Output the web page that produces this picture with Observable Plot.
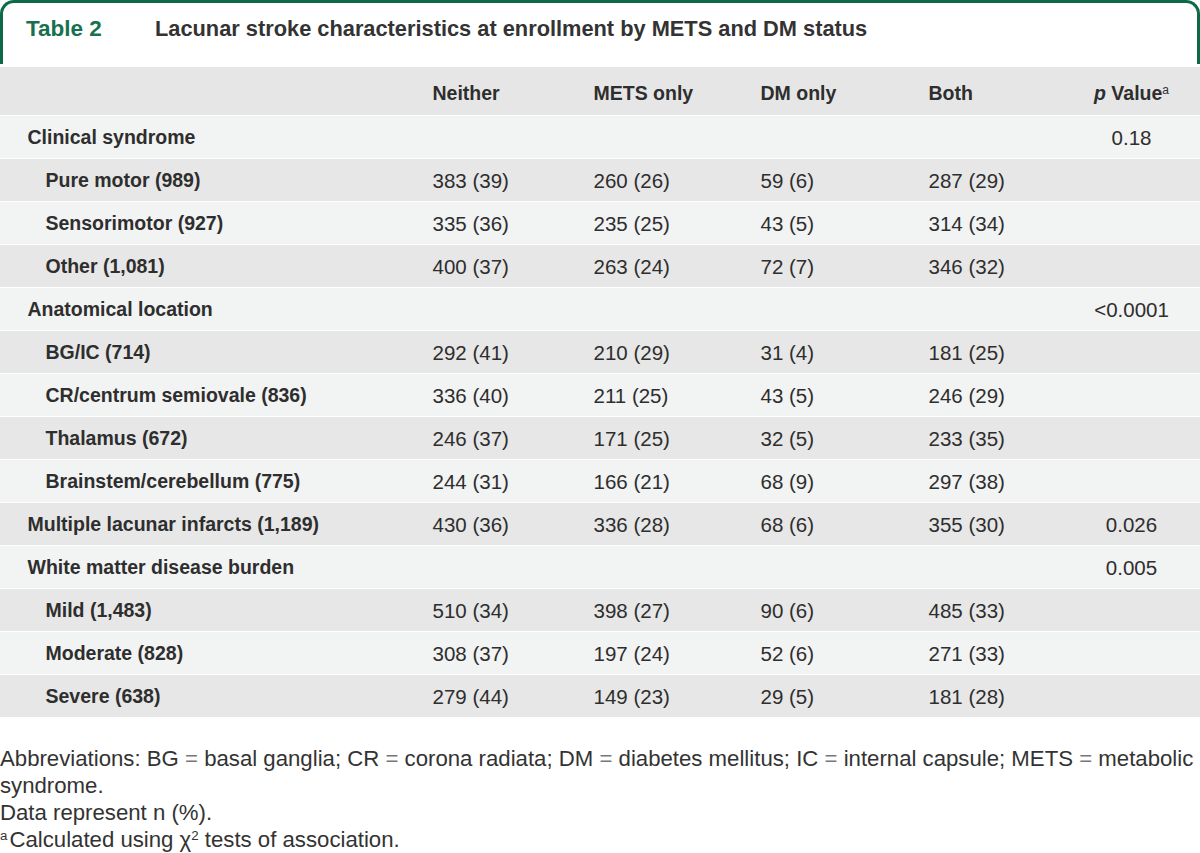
<!DOCTYPE html>
<html>
<head>
<meta charset="utf-8">
<script src="https://cdn.jsdelivr.net/npm/d3@7"></script>
<script src="https://cdn.jsdelivr.net/npm/@observablehq/plot@0.6"></script>
<style>
  body { margin: 0; background: #fff; font-family: "Liberation Sans", Arial, sans-serif; color: #2e2e2e; }
  #wrap { width: 1200px; }
  #title { box-sizing: border-box; width: 1200px; height: 64px; border: 3px solid #0c6a47; border-bottom: none; border-radius: 14px 14px 0 0; position: relative; }
  #title span { position: absolute; top: 11px; line-height: 30px; font-weight: bold; white-space: nowrap; }
  #title .num { left: 23px; color: #17714f; font-size: 22.5px; }
  #title .txt { left: 152px; color: #333; font-size: 21.8px; }
  #chart svg { display: block; }
  #notes { margin-top: 24px; font-size: 22.2px; line-height: 27px; white-space: nowrap; color: #333; }
  #notes .eq { color: #777; }
  #notes sup { font-size: 0.6em; vertical-align: 0; position: relative; top: -0.55em; }
  #notes sup.fn { margin-right: 2px; }
</style>
</head>
<body>
<div id="wrap">
  <div id="title"><span class="num">Table 2</span><span class="txt">Lacunar stroke characteristics at enrollment by METS and DM status</span></div>
  <div id="chart"></div>
  <div id="notes">
    Abbreviations: BG <span class="eq">=</span> basal ganglia; CR <span class="eq">=</span> corona radiata; DM <span class="eq">=</span> diabetes mellitus; IC <span class="eq">=</span> internal capsule; METS <span class="eq">=</span> metabolic<br>
    syndrome.<br>
    Data represent n (%).<br>
    <sup class="fn">a</sup>Calculated using χ<sup>2</sup> tests of association.
  </div>
</div>
<script>
// ---- data ----
const columns = ["Neither", "METS only", "DM only", "Both"];
const rowLabels = [
  "Clinical syndrome", "Pure motor (989)", "Sensorimotor (927)", "Other (1,081)",
  "Anatomical location", "BG/IC (714)", "CR/centrum semiovale (836)", "Thalamus (672)", "Brainstem/cerebellum (775)",
  "Multiple lacunar infarcts (1,189)",
  "White matter disease burden", "Mild (1,483)", "Moderate (828)", "Severe (638)"
];
const rowLevels = [0, 1, 1, 1, 0, 1, 1, 1, 1, 0, 0, 1, 1, 1];
const neitherN   = [null, 383, 335, 400, null, 292, 336, 246, 244, 430, null, 510, 308, 279];
const neitherPct = [null, 39, 36, 37, null, 41, 40, 37, 31, 36, null, 34, 37, 44];
const metsN      = [null, 260, 235, 263, null, 210, 211, 171, 166, 336, null, 398, 197, 149];
const metsPct    = [null, 26, 25, 24, null, 29, 25, 25, 21, 28, null, 27, 24, 23];
const dmN        = [null, 59, 43, 72, null, 31, 43, 32, 68, 68, null, 90, 52, 29];
const dmPct      = [null, 6, 5, 7, null, 4, 5, 5, 9, 6, null, 6, 6, 5];
const bothN      = [null, 287, 314, 346, null, 181, 246, 233, 297, 355, null, 485, 271, 181];
const bothPct    = [null, 29, 34, 32, null, 25, 29, 35, 38, 30, null, 33, 33, 28];
const pValues    = ["0.18", "", "", "", "<0.0001", "", "", "", "", "0.026", "0.005", "", "", ""];
const pHeader = "p Value";

// ---- layout (not data) ----
const W = 1200, H = 657;
const colX = { label0: 27, label1: 45, "Neither": 432, "METS only": 593, "DM only": 760, "Both": 928, p: 1131 };
const series = { "Neither": [neitherN, neitherPct], "METS only": [metsN, metsPct], "DM only": [dmN, dmPct], "Both": [bothN, bothPct] };

const rows = rowLabels.map((label, i) => ({ i, label, level: rowLevels[i], p: pValues[i] }));
const cells = [];
for (const c of columns) {
  const [ns, ps] = series[c];
  rows.forEach((r, i) => { if (ns[i] != null) cells.push({ col: c, i, text: `${ns[i]} (${ps[i]})` }); });
}
const headerKey = -1;

const chart = Plot.plot({
  width: W, height: H,
  marginTop: 6, marginBottom: 0, marginLeft: 0, marginRight: 0,
  style: { fontFamily: '"Liberation Sans", Arial, sans-serif', color: "#2e2e2e", background: "transparent", overflow: "visible" },
  x: { type: "linear", domain: [0, W], range: [0, W], axis: null },
  y: { type: "band", domain: [headerKey, ...rows.map(r => r.i)], padding: 0, axis: null },
  marks: [
    Plot.cell([headerKey], { y: d => d, fill: "#e6e6e6", insetTop: -6, insetBottom: 1 }),
    Plot.cell(rows, { y: "i", fill: d => d.i % 2 === 0 ? "#f2f3f3" : "#e7e7e7", insetBottom: 1 }),
    Plot.text(columns, { x: d => colX[d], y: () => headerKey, text: d => d, textAnchor: "start", fontWeight: "bold", fontSize: 19.5, dy: -1 }),
    Plot.text([pHeader], { x: () => colX.p, y: () => headerKey, text: d => d, textAnchor: "middle", fontWeight: "bold", fontSize: 19.5, dy: -1 }),
    Plot.text(rows, { x: d => d.level ? colX.label1 : colX.label0, y: "i", text: "label", textAnchor: "start", fontWeight: "bold", fontSize: 19.5 }),
    Plot.text(cells, { x: d => colX[d.col], y: "i", text: "text", textAnchor: "start", fontSize: 20.5 }),
    Plot.text(rows.filter(r => r.p), { x: () => colX.p, y: "i", text: "p", textAnchor: "middle", fontSize: 20.5 })
  ]
});
document.getElementById("chart").appendChild(chart);

// italic "p" and superscript "a" in the p value header
d3.select(chart).selectAll("text").filter(function () { return this.textContent === pHeader; }).each(function () {
  const t = d3.select(this);
  t.text(null);
  t.append("tspan").attr("font-style", "italic").text("p");
  t.append("tspan").text(" Value");
  t.append("tspan").attr("font-size", "12px").attr("font-weight", "normal").attr("dy", "-0.55em").text("a");
});
</script>
</body>
</html>
